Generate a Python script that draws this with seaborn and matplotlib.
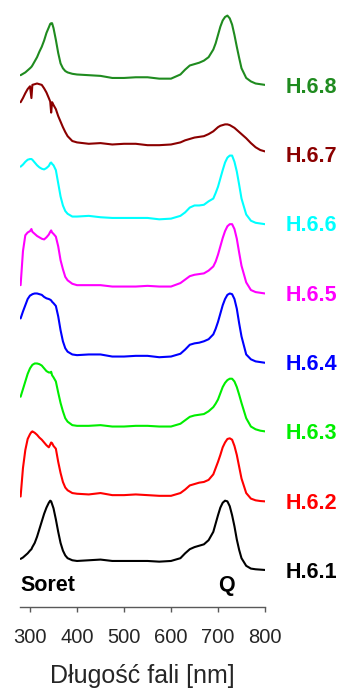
import matplotlib
matplotlib.use("Agg")
import matplotlib.pyplot as plt
import pandas as pd
import seaborn as sns

# Wavelength grid (nm) shared by all spectra
wavelength = [280, 285, 290, 295, 300, 303, 305, 310, 315, 320, 325, 330, 335, 340,
              343, 345, 347, 350, 355, 360, 365, 370, 375, 380, 390, 400,
              425, 450, 475, 500, 525, 550, 575, 600,
              620, 630, 640, 650, 660, 670, 680, 690,
              695, 700, 705, 710, 715, 720, 725, 730, 735, 740, 745, 750,
              760, 770, 780, 790, 800]

# Normalised absorbance of each sample
h6_1 = [0.16, 0.18, 0.21, 0.24, 0.28, 0.30, 0.33, 0.39, 0.48, 0.59, 0.70, 0.81, 0.90, 0.97,
        1.00, 0.99, 0.95, 0.89, 0.73, 0.55, 0.39, 0.28, 0.21, 0.17, 0.14, 0.13,
        0.14, 0.15, 0.13, 0.13, 0.13, 0.13, 0.12, 0.13,
        0.17, 0.24, 0.30, 0.33, 0.35, 0.37, 0.43, 0.55,
        0.67, 0.79, 0.90, 0.97, 1.00, 0.99, 0.92, 0.79, 0.63, 0.44, 0.29, 0.17,
        0.06, 0.02, 0.01, 0.005, 0.0]
h6_2 = [0.06, 0.47, 0.73, 0.89, 0.96, 0.99, 1.00, 0.98, 0.95, 0.91, 0.88, 0.84, 0.80, 0.77,
        0.81, 0.84, 0.83, 0.79, 0.75, 0.56, 0.40, 0.27, 0.19, 0.15, 0.11, 0.10,
        0.09, 0.11, 0.08, 0.08, 0.09, 0.08, 0.07, 0.07,
        0.11, 0.16, 0.22, 0.24, 0.26, 0.27, 0.30, 0.38,
        0.47, 0.56, 0.66, 0.77, 0.84, 0.89, 0.90, 0.88, 0.79, 0.66, 0.49, 0.32,
        0.11, 0.03, 0.005, -0.005, -0.01]
h6_3 = [0.50, 0.61, 0.72, 0.83, 0.91, 0.94, 0.96, 0.98, 0.98, 0.97, 0.95, 0.91, 0.87, 0.85,
        0.85, 0.86, 0.81, 0.78, 0.72, 0.56, 0.41, 0.29, 0.19, 0.14, 0.09, 0.08,
        0.08, 0.09, 0.07, 0.07, 0.08, 0.08, 0.07, 0.07,
        0.11, 0.16, 0.21, 0.23, 0.24, 0.25, 0.29, 0.35,
        0.40, 0.46, 0.55, 0.64, 0.70, 0.74, 0.76, 0.76, 0.72, 0.64, 0.53, 0.41,
        0.19, 0.07, 0.03, 0.01, 0.0]
h6_4 = [0.63, 0.73, 0.82, 0.91, 0.96, 0.97, 0.98, 0.99, 0.99, 0.98, 0.97, 0.94, 0.92, 0.91,
        0.90, 0.89, 0.87, 0.85, 0.81, 0.66, 0.46, 0.30, 0.20, 0.15, 0.11, 0.10,
        0.11, 0.11, 0.08, 0.08, 0.09, 0.09, 0.07, 0.08,
        0.12, 0.18, 0.25, 0.27, 0.28, 0.30, 0.33, 0.40,
        0.48, 0.58, 0.70, 0.82, 0.91, 0.97, 0.99, 0.98, 0.91, 0.77, 0.56, 0.37,
        0.11, 0.04, 0.01, 0.0, -0.01]
h6_5 = [0.11, 0.60, 0.83, 0.87, 0.89, 0.92, 0.88, 0.85, 0.82, 0.80, 0.78, 0.77, 0.80, 0.84,
        0.88, 0.90, 0.87, 0.85, 0.81, 0.67, 0.47, 0.34, 0.23, 0.18, 0.13, 0.11,
        0.11, 0.11, 0.09, 0.09, 0.09, 0.10, 0.09, 0.09,
        0.14, 0.19, 0.24, 0.26, 0.27, 0.28, 0.32, 0.38,
        0.45, 0.55, 0.67, 0.79, 0.89, 0.96, 0.99, 0.99, 0.92, 0.78, 0.58, 0.39,
        0.15, 0.04, 0.01, 0.0, -0.01]
h6_6 = [0.82, 0.85, 0.89, 0.92, 0.93, 0.93, 0.92, 0.88, 0.84, 0.81, 0.79, 0.78, 0.80, 0.83,
        0.87, 0.88, 0.86, 0.84, 0.77, 0.58, 0.39, 0.26, 0.18, 0.14, 0.10, 0.10,
        0.11, 0.09, 0.08, 0.08, 0.08, 0.08, 0.06, 0.07,
        0.11, 0.16, 0.23, 0.26, 0.26, 0.27, 0.32, 0.36,
        0.44, 0.53, 0.65, 0.77, 0.88, 0.95, 0.98, 0.98, 0.89, 0.75, 0.56, 0.36,
        0.13, 0.04, 0.01, 0.0, -0.01]
h6_7 = [0.75, 0.81, 0.88, 0.94, 0.98, 0.81, 1.00, 1.01, 1.02, 1.01, 1.00, 0.95, 0.89, 0.81,
        0.76, 0.60, 0.75, 0.71, 0.65, 0.55, 0.47, 0.39, 0.32, 0.26, 0.19, 0.17,
        0.15, 0.16, 0.14, 0.15, 0.15, 0.13, 0.13, 0.14,
        0.17, 0.20, 0.22, 0.24, 0.25, 0.26, 0.29, 0.33,
        0.36, 0.39, 0.41, 0.42, 0.43, 0.43, 0.42, 0.40, 0.38, 0.35, 0.32, 0.29,
        0.23, 0.16, 0.10, 0.06, 0.04]
h6_8 = [0.14, 0.16, 0.18, 0.21, 0.24, 0.26, 0.28, 0.34, 0.40, 0.48, 0.55, 0.64, 0.75, 0.83,
        0.88, 0.89, 0.89, 0.82, 0.65, 0.46, 0.31, 0.24, 0.20, 0.18, 0.16, 0.15,
        0.14, 0.13, 0.10, 0.10, 0.11, 0.11, 0.09, 0.09,
        0.15, 0.22, 0.28, 0.30, 0.32, 0.35, 0.40, 0.51,
        0.60, 0.72, 0.84, 0.93, 0.98, 1.00, 0.96, 0.87, 0.72, 0.55, 0.39, 0.24,
        0.10, 0.05, 0.02, 0.01, 0.0]

samples = ["H.6.1", "H.6.2", "H.6.3", "H.6.4", "H.6.5", "H.6.6", "H.6.7", "H.6.8"]
colors = ["#000000", "#ff0000", "#00ee00", "#0000ff", "#ff00ff", "#00ffff", "#8b0000", "#1f8b1f"]
xticks = [300, 400, 500, 600, 700, 800]

sns.set_style("white")
plt.rcParams["font.family"] = ["Liberation Sans", "DejaVu Sans"]

spectra = [h6_1, h6_2, h6_3, h6_4, h6_5, h6_6, h6_7, h6_8]
frames = []
for k, (name, values) in enumerate(zip(samples, spectra)):
    frames.append(pd.DataFrame({"wavelength": wavelength, "absorbance": values,
                                "sample": name, "offset": k}))
df = pd.concat(frames, ignore_index=True)
df["stacked"] = df["absorbance"] + df["offset"]

fig = plt.figure(figsize=(3.39, 6.88), dpi=100)
ax = fig.add_axes([20 / 339, 1 - 606.7 / 688, 245 / 339, 606.7 / 688])

sns.lineplot(data=df, x="wavelength", y="stacked", hue="sample",
             palette=dict(zip(samples, colors)), estimator=None,
             legend=False, linewidth=1.5, ax=ax)

ax.set_xlim(278.7, 800)
ax.set_ylim(-0.53, 8.225)

for side in ("left", "top", "right"):
    ax.spines[side].set_visible(False)
ax.spines["bottom"].set_color("#595959")
ax.spines["bottom"].set_linewidth(1.0)

ax.set_xticks(xticks)
ax.set_yticks([])
ax.tick_params(axis="x", direction="out", length=3.5, width=1.0, color="#595959",
               labelsize=14.5, labelcolor="#262626", pad=11.5, bottom=True)
ax.set_ylabel("")
ax.set_xlabel("Długość fali [nm]", fontsize=18, color="#262626")
ax.xaxis.set_label_coords(0.5, -0.094)

# Sample names at the right end of each spectrum
for k, (name, c) in enumerate(zip(samples, colors)):
    ax.text(843.7, k - 0.115, name, color=c, fontsize=15.5, fontweight="bold",
            ha="left", va="baseline", clip_on=False)

# Band annotations
ax.text(278.7, -0.31, "Soret", fontsize=15.5, fontweight="bold", color="#000000",
        ha="left", va="baseline")
ax.text(719, -0.31, "Q", fontsize=15.5, fontweight="bold", color="#000000",
        ha="center", va="baseline")

fig.savefig("out.png", dpi=100)
